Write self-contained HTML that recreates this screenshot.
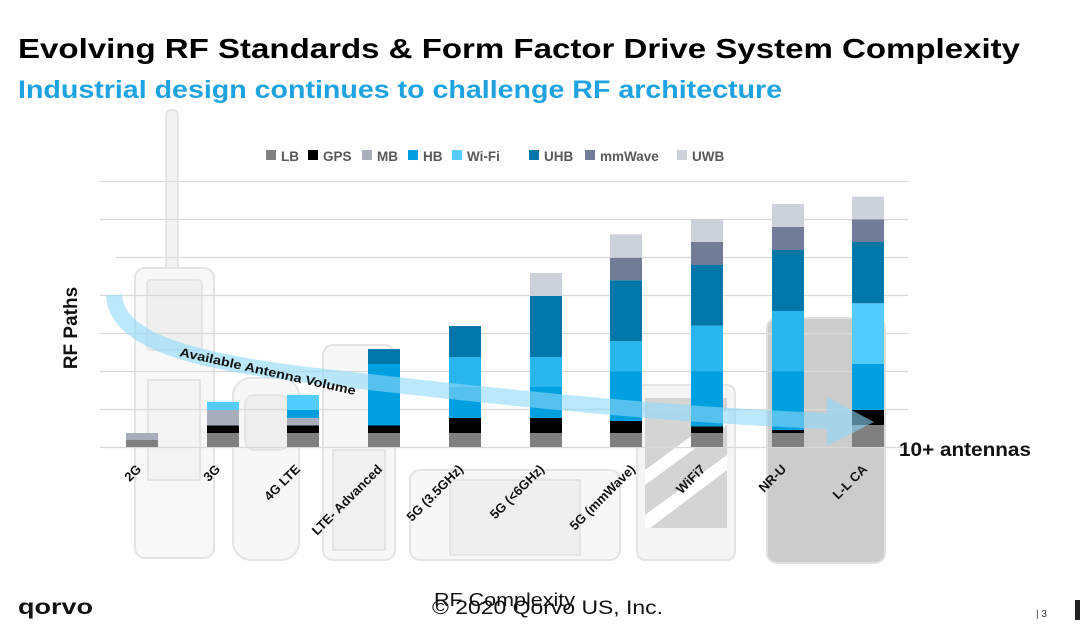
<!DOCTYPE html>
<html><head><meta charset="utf-8"><style>
html,body{margin:0;padding:0;background:#fff;}
svg{display:block;font-family:"Liberation Sans",Arial,sans-serif;}
</style></head><body>
<svg width="1080" height="625" viewBox="0 0 1080 625" xmlns="http://www.w3.org/2000/svg">
<rect width="1080" height="625" fill="#fff"/>
<!-- title -->
<text x="18" y="58" font-size="28" font-weight="bold" fill="#000" textLength="1002" lengthAdjust="spacingAndGlyphs">Evolving RF Standards &amp; Form Factor Drive System Complexity</text>
<text x="18" y="98" font-size="25" font-weight="bold" fill="#1fa3e0" textLength="764" lengthAdjust="spacingAndGlyphs">Industrial design continues to challenge RF architecture</text>

<!-- phone sketches (faint) -->
<g fill="none" stroke="#e4e4e4" stroke-width="2">
  <rect x="166" y="110" width="12" height="160" rx="5" fill="#f2f2f2"/>
  <rect x="135" y="268" width="79" height="290" rx="10" fill="#f8f8f8"/>
  <rect x="147" y="280" width="55" height="70" rx="4" fill="#efefef"/>
  <rect x="148" y="380" width="52" height="100" fill="#f3f3f3"/>
  <rect x="233" y="378" width="66" height="182" rx="18" fill="#f7f7f7"/>
  <rect x="245" y="395" width="44" height="55" rx="10" fill="#eeeeee"/>
  <rect x="323" y="345" width="72" height="215" rx="10" fill="#f7f7f7"/>
  <rect x="333" y="450" width="52" height="100" fill="#f1f1f1"/>
  <rect x="410" y="470" width="210" height="90" rx="10" fill="#f7f7f7"/>
  <rect x="450" y="480" width="130" height="75" fill="#efefef"/>
  <rect x="637" y="385" width="98" height="175" rx="8" fill="#f5f5f5"/>
  <rect x="645" y="398" width="82" height="130" fill="#d4d4d4" stroke="none"/>
</g>
<polygon points="645,470 727,410 727,425 645,485" fill="#fff"/>
<polygon points="645,515 727,455 727,470 650,528 645,528" fill="#fff"/>
<rect x="767" y="318" width="118" height="245" rx="10" fill="#cccccc" stroke="#e0e0e0" stroke-width="2"/>

<!-- gridlines -->
<g stroke="#d9d9d9" stroke-width="1.3">
  <line x1="100" y1="181.5" x2="908" y2="181.5"/>
  <line x1="100" y1="219.5" x2="908" y2="219.5"/>
  <line x1="116" y1="257.5" x2="908" y2="257.5"/>
  <line x1="100" y1="295.5" x2="908" y2="295.5"/>
  <line x1="100" y1="333.5" x2="908" y2="333.5"/>
  <line x1="100" y1="371.5" x2="908" y2="371.5"/>
  <line x1="100" y1="409.5" x2="908" y2="409.5"/>
  <line x1="100" y1="447.5" x2="908" y2="447.5"/>
</g>

<!-- legend -->
<g font-size="13.5" font-weight="bold" fill="#595959">
  <rect x="266" y="150" width="10" height="10" fill="#808080"/><text x="281" y="161">LB</text>
  <rect x="308" y="150" width="10" height="10" fill="#000"/><text x="323" y="161">GPS</text>
  <rect x="362" y="150" width="10" height="10" fill="#a9aebd"/><text x="377" y="161">MB</text>
  <rect x="408" y="150" width="10" height="10" fill="#009fdf"/><text x="423" y="161">HB</text>
  <rect x="452" y="150" width="10" height="10" fill="#55ccff"/><text x="467" y="161">Wi-Fi</text>
  <rect x="529" y="150" width="10" height="10" fill="#0077a8"/><text x="544" y="161">UHB</text>
  <rect x="585" y="150" width="10" height="10" fill="#737c96"/><text x="600" y="161">mmWave</text>
  <rect x="677" y="150" width="10" height="10" fill="#cdd1da"/><text x="692" y="161">UWB</text>
</g>

<!-- bars -->
<g>
  <rect x="126" y="440" width="32" height="7" fill="#808080"/>
  <rect x="126" y="433" width="32" height="7" fill="#a9aebd"/>
  <rect x="207" y="433" width="32" height="14" fill="#808080"/>
  <rect x="207" y="425.5" width="32" height="7.5" fill="#000"/>
  <rect x="207" y="410" width="32" height="15.5" fill="#a9aebd"/>
  <rect x="207" y="402" width="32" height="8" fill="#55ccff"/>
  <rect x="287" y="433" width="32" height="14" fill="#808080"/>
  <rect x="287" y="425.5" width="32" height="7.5" fill="#000"/>
  <rect x="287" y="418" width="32" height="7.5" fill="#a9aebd"/>
  <rect x="287" y="410" width="32" height="8" fill="#009fdf"/>
  <rect x="287" y="395" width="32" height="15" fill="#55ccff"/>
  <rect x="368" y="433" width="32" height="14" fill="#808080"/>
  <rect x="368" y="425.5" width="32" height="7.5" fill="#000"/>
  <rect x="368" y="364" width="32" height="61.5" fill="#009fdf"/>
  <rect x="368" y="349" width="32" height="15" fill="#0077a8"/>
  <rect x="449" y="433" width="32" height="14" fill="#808080"/>
  <rect x="449" y="418" width="32" height="15" fill="#000"/>
  <rect x="449" y="387" width="32" height="31" fill="#009fdf"/>
  <rect x="449" y="357" width="32" height="30" fill="#29b5ee"/>
  <rect x="449" y="326" width="32" height="31" fill="#0077a8"/>
  <rect x="530" y="433" width="32" height="14" fill="#808080"/>
  <rect x="530" y="418" width="32" height="15" fill="#000"/>
  <rect x="530" y="387" width="32" height="31" fill="#009fdf"/>
  <rect x="530" y="357" width="32" height="30" fill="#29b5ee"/>
  <rect x="530" y="296" width="32" height="61" fill="#0077a8"/>
  <rect x="530" y="273" width="32" height="23" fill="#cdd1da"/>
  <rect x="610" y="433" width="32" height="14" fill="#808080"/>
  <rect x="610" y="421" width="32" height="12" fill="#000"/>
  <rect x="610" y="371.5" width="32" height="49.5" fill="#009fdf"/>
  <rect x="610" y="341.3" width="32" height="30.2" fill="#29b5ee"/>
  <rect x="610" y="280.3" width="32" height="61" fill="#0077a8"/>
  <rect x="610" y="257.7" width="32" height="22.6" fill="#737c96"/>
  <rect x="610" y="234.3" width="32" height="23.4" fill="#cdd1da"/>
  <rect x="691" y="433" width="32" height="14" fill="#808080"/>
  <rect x="691" y="426.5" width="32" height="6.5" fill="#000"/>
  <rect x="691" y="371.5" width="32" height="55" fill="#009fdf"/>
  <rect x="691" y="325.7" width="32" height="45.8" fill="#29b5ee"/>
  <rect x="691" y="265" width="32" height="60.7" fill="#0077a8"/>
  <rect x="691" y="242" width="32" height="23" fill="#737c96"/>
  <rect x="691" y="219.3" width="32" height="22.7" fill="#cdd1da"/>
  <rect x="772" y="433" width="32" height="14" fill="#808080"/>
  <rect x="772" y="430" width="32" height="3" fill="#000"/>
  <rect x="772" y="371.5" width="32" height="58.5" fill="#009fdf"/>
  <rect x="772" y="311" width="32" height="60.5" fill="#29b5ee"/>
  <rect x="772" y="250" width="32" height="61" fill="#0077a8"/>
  <rect x="772" y="227" width="32" height="23" fill="#737c96"/>
  <rect x="772" y="204" width="32" height="23" fill="#cdd1da"/>
  <rect x="852" y="425" width="32" height="22" fill="#808080"/>
  <rect x="852" y="410" width="32" height="15" fill="#000"/>
  <rect x="852" y="364" width="32" height="46" fill="#009fdf"/>
  <rect x="852" y="303.3" width="32" height="60.7" fill="#55ccff"/>
  <rect x="852" y="242" width="32" height="61.3" fill="#0077a8"/>
  <rect x="852" y="219.3" width="32" height="22.7" fill="#737c96"/>
  <rect x="852" y="196.7" width="32" height="22.6" fill="#cdd1da"/>
</g>

<!-- arrow band -->
<g opacity="0.6">
  <path d="M114,295 C116,340 190,360 300,374 C420,388 560,404 700,414 C760,418 800,420 830,421" fill="none" stroke="#8fd8f8" stroke-width="16"/>
  <polygon points="827,397 874,422 827,446" fill="#8fd8f8"/>
</g>
<text x="0" y="0" font-size="12.5" font-weight="bold" fill="#111" transform="translate(179,356) rotate(12.5)" textLength="180" lengthAdjust="spacingAndGlyphs">Available Antenna Volume</text>

<!-- x labels -->
<g font-size="13" font-weight="bold" fill="#111" text-anchor="end">
  <text transform="translate(142,470) rotate(-45)">2G</text>
  <text transform="translate(221,470) rotate(-45)">3G</text>
  <text transform="translate(301,470) rotate(-45)">4G LTE</text>
  <text transform="translate(383,470) rotate(-45)">LTE- Advanced</text>
  <text transform="translate(464,470) rotate(-45)">5G (3.5GHz)</text>
  <text transform="translate(545,470) rotate(-45)">5G (&lt;6GHz)</text>
  <text transform="translate(636,470) rotate(-45)">5G (mmWave)</text>
  <text transform="translate(706,470) rotate(-45)">WiFi7</text>
  <text transform="translate(787,470) rotate(-45)">NR-U</text>
  <text transform="translate(868,470) rotate(-45)">L-L CA</text>
</g>

<text transform="translate(77,328) rotate(-90)" text-anchor="middle" font-size="19" font-weight="bold" fill="#111">RF Paths</text>
<text x="899" y="456" font-size="19" font-weight="bold" fill="#111" textLength="132" lengthAdjust="spacingAndGlyphs">10+ antennas</text>

<!-- footer -->
<text x="18" y="614" font-size="21" font-weight="bold" fill="#111" textLength="75" lengthAdjust="spacingAndGlyphs">qorvo</text>
<text x="434" y="606" font-size="18" fill="#111" textLength="141" lengthAdjust="spacingAndGlyphs">RF Complexity</text>
<text x="432" y="614" font-size="19" fill="#111" textLength="231" lengthAdjust="spacingAndGlyphs">© 2020 Qorvo US, Inc.</text>
<text x="1036" y="617" font-size="10" fill="#333">| 3</text>
<rect x="1075" y="600" width="5" height="20" fill="#222"/>
</svg>
</body></html>
